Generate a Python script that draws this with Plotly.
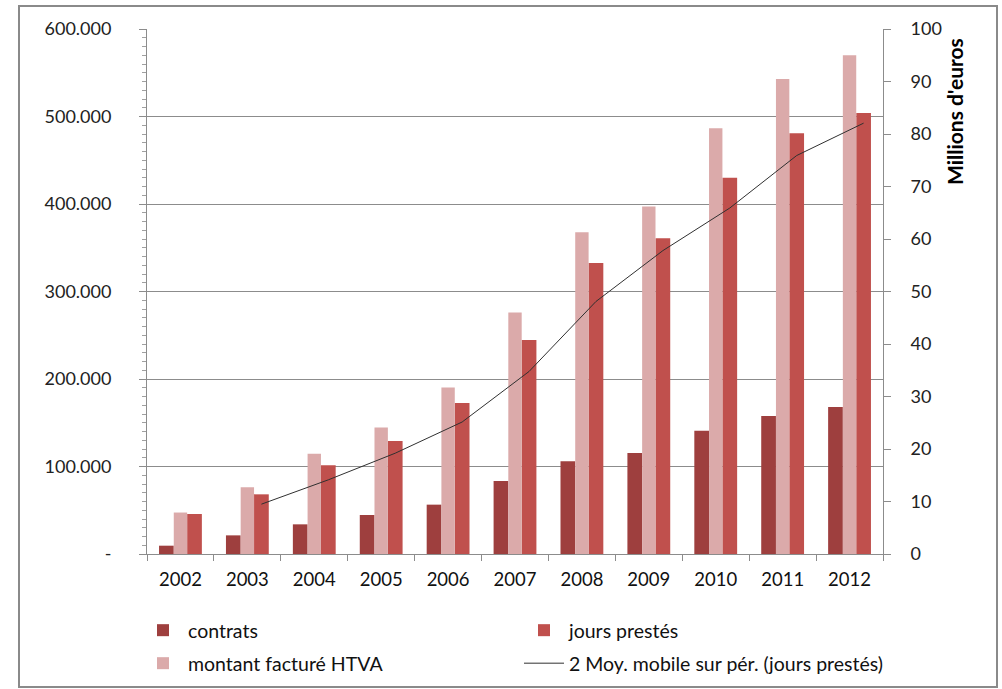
import plotly.graph_objects as go
import pandas as pd

years = ["2002", "2003", "2004", "2005", "2006", "2007", "2008", "2009", "2010", "2011", "2012"]
contrats = [9500, 21300, 33900, 44600, 56400, 83400, 105900, 115400, 140900, 157700, 168000]
jours_prestes = [45700, 68200, 101300, 129100, 172600, 244600, 332600, 360800, 430000, 480800, 504000]
montant_htva = [7.9, 12.7, 19.1, 24.1, 31.7, 46.0, 61.3, 66.2, 81.1, 90.5, 95.0]  # millions d'euros

left_ticks = [0, 100000, 200000, 300000, 400000, 500000, 600000]
left_ticktext = ["-", "100.000", "200.000", "300.000", "400.000", "500.000", "600.000"]

# 2-period moving average of jours prestés (Excel trendline)
moy_mobile = pd.Series(jours_prestes).rolling(2).mean().tolist()

C_CONTRATS = "#9E3F3E"
C_JOURS = "#C0504D"
C_MONTANT = "#DBAAAA"
GRID = "#8C8C8C"
FONT = "Lato"

# bar slot layout within a category (fractions of category width)
OFF_C, W_C = -0.32, 0.22
OFF_M, W_M = -0.10, 0.20
OFF_J, W_J = 0.10, 0.22
line_shift = OFF_J + W_J / 2

fig = go.Figure()
fig.add_trace(go.Bar(x=years, y=contrats, name="contrats", marker_color=C_CONTRATS,
                     offset=OFF_C, width=W_C, marker_line_width=0, legend="legend"))
fig.add_trace(go.Bar(x=years, y=jours_prestes, name="jours prestés", marker_color=C_JOURS,
                     offset=OFF_J, width=W_J, marker_line_width=0, legend="legend"))
fig.add_trace(go.Bar(x=years, y=montant_htva, name="montant facturé HTVA", marker_color=C_MONTANT,
                     offset=OFF_M, width=W_M, marker_line_width=0, yaxis="y2", legend="legend2"))
idx = [i + line_shift for i in range(len(years))]
fig.add_trace(go.Scatter(x=idx[1:], y=moy_mobile[1:], mode="lines",
                         name="2 Moy. mobile sur pér. (jours prestés)",
                         line=dict(color="#303030", width=1), xaxis="x2", legend="legend2"))

W, H = 1002, 689
L, R, T, B = 147, 883, 29, 554
pw, ph = R - L, B - T

fig.update_layout(
    width=W, height=H,
    margin=dict(l=L, r=W - R, t=T, b=H - B, pad=0, autoexpand=False),
    paper_bgcolor="white", plot_bgcolor="white",
    barmode="overlay",
    font=dict(family=FONT, size=18, color="#222222"),
    xaxis=dict(type="category", range=[-0.5, 10.5], tickson="boundaries", ticks="outside",
               ticklen=6, tickcolor=GRID, showline=True, linecolor=GRID, linewidth=1,
               showgrid=False, tickfont=dict(size=18.5, color="#111111"), fixedrange=True,
               ticklabelstandoff=9),
    xaxis2=dict(overlaying="x", range=[-0.5, 10.5], visible=False, anchor="y"),
    yaxis=dict(range=[0, 600000], tickvals=left_ticks, ticktext=left_ticktext,
               ticks="outside", ticklen=7, tickcolor=GRID, showline=True, linecolor=GRID,
               linewidth=1, showgrid=True, gridcolor=GRID, gridwidth=1, zeroline=False,
               ticklabelstandoff=24,
               minor=dict(dtick=10000, ticks="outside", ticklen=4, tickcolor="#A0A0A0", showgrid=False),
               tickfont=dict(size=18, color="#222222")),
    yaxis2=dict(range=[0, 100], dtick=10, overlaying="y", side="right", ticks="outside",
                ticklen=7, tickcolor=GRID, showline=True, linecolor=GRID, linewidth=1,
                showgrid=False, zeroline=False, ticklabelstandoff=16,
                tickfont=dict(size=18, color="#222222")),
    legend=dict(orientation="h", x=(138 - L) / pw, y=(B - 611) / ph, xanchor="left", yanchor="top",
                entrywidth=326, entrywidthmode="pixels", font=dict(size=19.5, color="#111111"),
                bgcolor="rgba(0,0,0,0)", itemwidth=40, traceorder="normal"),
    legend2=dict(orientation="h", x=(138 - L) / pw, y=(B - 644) / ph, xanchor="left", yanchor="top",
                 entrywidth=326, entrywidthmode="pixels", font=dict(size=19.5, color="#111111"),
                 bgcolor="rgba(0,0,0,0)", itemwidth=40, traceorder="normal"),
    annotations=[dict(text="<b>Millions d'euros</b>", textangle=-90, xref="paper", yref="paper",
                      x=(955 - L) / pw, y=(B - 112) / ph, showarrow=False,
                      font=dict(size=21, color="#000000"), xanchor="center", yanchor="middle")],
    shapes=[dict(type="rect", xref="paper", yref="paper",
                 x0=(19 - L) / pw, x1=(997 - L) / pw, y0=(B - 687) / ph, y1=(B - 6) / ph,
                 line=dict(color="#8A8A8A", width=2), fillcolor="rgba(0,0,0,0)", layer="below")],
    showlegend=True,
)

fig.write_html("out.html", config={"displayModeBar": False},
               post_script="document.body.style.margin='0';document.body.style.overflow='hidden';")
